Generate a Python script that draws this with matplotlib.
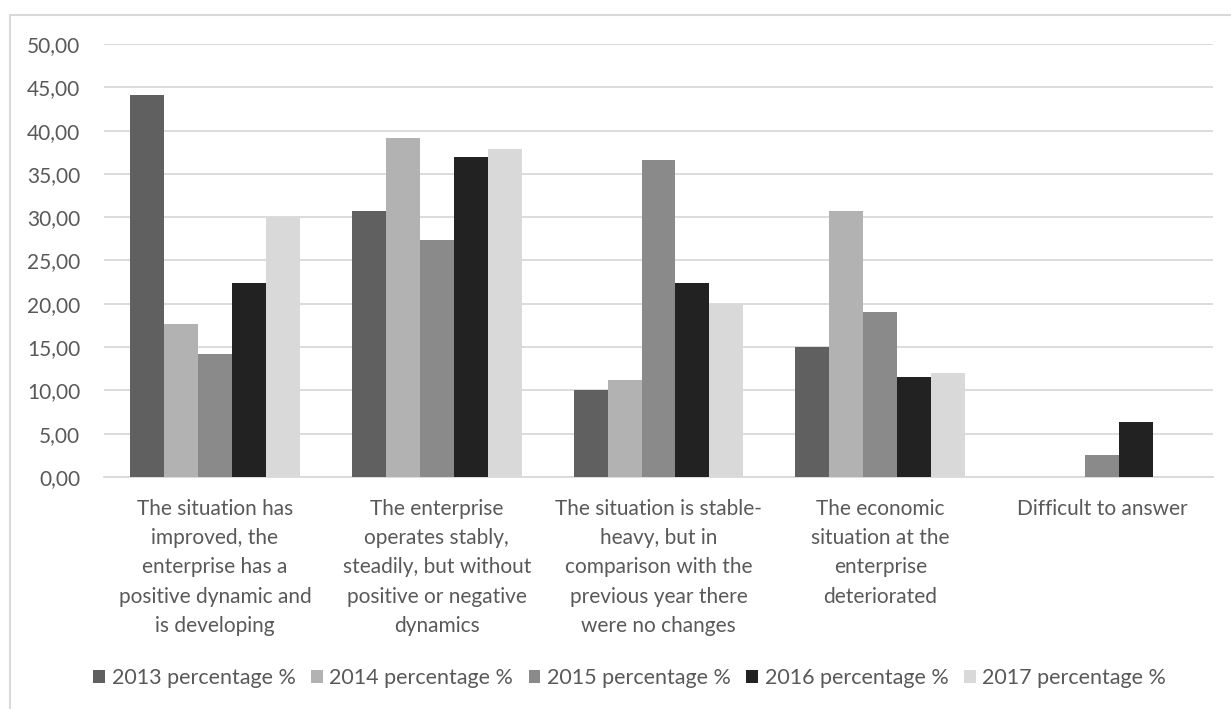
import matplotlib.pyplot as plt
import numpy as np
from matplotlib.ticker import FuncFormatter
from matplotlib.patches import Rectangle

categories = [
    "The situation has\nimproved, the\nenterprise has a\npositive dynamic and\nis developing",
    "The enterprise\noperates stably,\nsteadily, but without\npositive or negative\ndynamics",
    "The situation is stable-\nheavy, but in\ncomparison with the\nprevious year there\nwere no changes",
    "The economic\nsituation at the\nenterprise\ndeteriorated",
    "Difficult to answer",
]
series_names = ["2013 percentage %", "2014 percentage %", "2015 percentage %",
                "2016 percentage %", "2017 percentage %"]
v2013 = [44.1, 30.7, 10.0, 15.0, 0.0]
v2014 = [17.7, 39.2, 11.2, 30.7, 0.0]
v2015 = [14.2, 27.4, 36.6, 19.1, 2.5]
v2016 = [22.4, 37.0, 22.4, 11.5, 6.4]
v2017 = [30.0, 37.9, 20.0, 12.0, 0.0]
colors = ["#606060", "#b2b2b2", "#8a8a8a", "#222222", "#d9d9d9"]

plt.rcParams['font.family'] = ['Lato', 'DejaVu Sans']
txt = "#595959"

fig = plt.figure(figsize=(12.31, 7.09), dpi=100)
ax = fig.add_axes([104 / 1231, 1 - 477 / 709, 1109 / 1231, 433 / 709])
# chart border (only left and top edges fall inside the image)
fig.patches.append(Rectangle((9.5 / 1231, -0.1), 1.2, 1.1 - 14.7 / 709,
                             transform=fig.transFigure, fill=False,
                             edgecolor="#d9d9d9", lw=1.5))

x = np.arange(len(categories))
w = 0.153
for i, vals in enumerate([v2013, v2014, v2015, v2016, v2017]):
    ax.bar(x + (i - 2) * w, vals, w, color=colors[i], label=series_names[i], zorder=3)

ax.set_ylim(0, 50)
ax.set_xlim(-0.5, len(categories) - 0.5)
ax.set_yticks(np.arange(0, 51, 5))
ax.yaxis.set_major_formatter(FuncFormatter(lambda v, p: f"{v:.2f}".replace(".", ",")))
ax.grid(axis="y", color="#d9d9d9", lw=1.3, zorder=0)
for s in ["top", "right", "left"]:
    ax.spines[s].set_visible(False)
ax.spines["bottom"].set_color("#d9d9d9")
ax.spines["bottom"].set_linewidth(1.3)
ax.tick_params(length=0, labelsize=15, colors=txt)
ax.tick_params(axis="y", pad=17)
ax.set_xticks(x)
ax.set_xticklabels(categories, va="top", linespacing=1.57)
ax.tick_params(axis="x", pad=16)

ax.legend(loc="center", bbox_to_anchor=(0.474, -0.464), ncol=5, frameon=False,
          fontsize=15.5, labelcolor=txt, handlelength=0.55, handleheight=0.55,
          handletextpad=0.3, columnspacing=0.72)

fig.savefig("out.png", dpi=100)
